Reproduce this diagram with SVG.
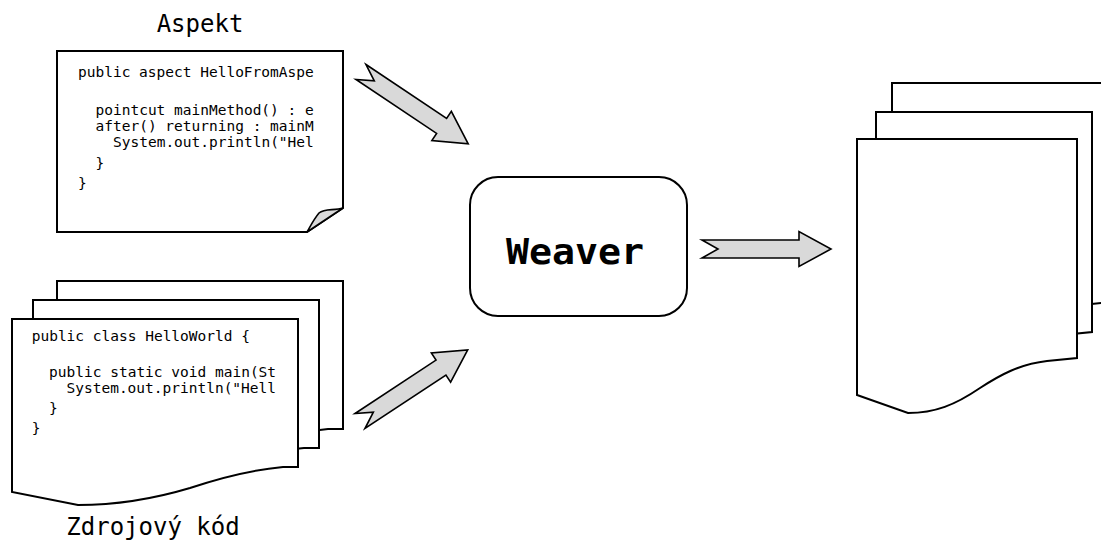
<svg xmlns="http://www.w3.org/2000/svg" width="1101" height="541" viewBox="0 0 1101 541">
  <defs>
    <style>
      .page { fill: #ffffff; stroke: #000000; stroke-width: 2; stroke-linejoin: miter; }
      .curl { fill: #d9d9d9; stroke: #000000; stroke-width: 1.6; stroke-linejoin: round; }
      .code { font-family: "DejaVu Sans Mono", "Liberation Mono", monospace; font-size: 14.5px; fill: #000000; }
      .label { font-family: "DejaVu Sans Mono", "Liberation Mono", monospace; font-size: 24px; fill: #000000; text-anchor: middle; }
      .title { font-family: "DejaVu Sans Mono", "Liberation Mono", monospace; font-size: 35px; font-weight: bold; fill: #000000; text-anchor: middle; }
      .block { fill: #d9d9d9; stroke: #000000; stroke-width: 1.6; stroke-linejoin: miter; }
    </style>
    <!-- notched block arrow pointing along +x, tail centre at the origin -->
    <polygon id="blockArrow" points="0,-9 97,-9 97,-17.5 129,0 97,17.5 97,9 0,9 16,0"/>
  </defs>

  <!-- aspect source file with folded corner -->
  <g id="aspect">
    <text class="label" x="200" y="32">Aspekt</text>
    <path class="page" d="M57,51 H343 V208 L307,232 H57 Z"/>
    <path class="curl" d="M343,208 C334,211 325,208 319,213 C314,219 311,225 307,232 Z"/>
    <text class="code" x="78" y="77">public aspect HelloFromAspe</text>
    <text class="code" x="95.5" y="115">pointcut mainMethod() : e</text>
    <text class="code" x="95.5" y="131">after() returning : mainM</text>
    <text class="code" x="113" y="147">System.out.println("Hel</text>
    <text class="code" x="95.5" y="168">}</text>
    <text class="code" x="78" y="188">}</text>
  </g>

  <!-- stack of source files -->
  <g id="sources">
    <path class="page" d="M57,281 H343 V429 L328,429 C295,432 265,440 235,450 C195,462 160,467 123,467 L57,454 Z"/>
    <path class="page" d="M33,300 H319 V448 L304,448 C271,451 241,459 211,469 C171,481 136,486 99,486 L33,473 Z"/>
    <path class="page" d="M12,319 H298 V467 L283,467 C250,470 220,478 190,488 C150,500 115,505 78,505 L12,492 Z"/>
    <text class="code" x="31.7" y="341">public class HelloWorld {</text>
    <text class="code" x="49.1" y="377">public static void main(St</text>
    <text class="code" x="66.5" y="393">System.out.println("Hell</text>
    <text class="code" x="49.1" y="413">}</text>
    <text class="code" x="31.7" y="433">}</text>
    <text class="label" x="153" y="535">Zdrojový kód</text>
  </g>

  <!-- weaver process -->
  <g id="weaver">
    <rect class="page" x="470" y="177" width="217" height="139" rx="28" ry="28"/>
    <text class="title" x="575" y="264" textLength="138" lengthAdjust="spacingAndGlyphs">Weaver</text>
  </g>

  <!-- stack of woven output files -->
  <g id="output">
    <path class="page" d="M892,83 H1112 V302 L1082,305 C1055,308 1035,319 1015,332 C990,349 970,357 943,357 L892,339 Z"/>
    <path class="page" d="M876,112 H1092 V332 L1062,335 C1035,338 1015,349 995,362 C970,379 950,387 923,387 L876,369 Z"/>
    <path class="page" d="M857,139 H1077 V358 L1047,361 C1020,364 1000,375 980,388 C955,405 935,413 908,413 L857,395 Z"/>
  </g>

  <!-- connectors -->
  <g id="connectors">
    <use href="#blockArrow" class="block" transform="translate(361,72) rotate(33.8)"/>
    <use href="#blockArrow" class="block" transform="translate(360,421) rotate(-33.4)"/>
    <use href="#blockArrow" class="block" transform="translate(702,249)"/>
  </g>
</svg>
